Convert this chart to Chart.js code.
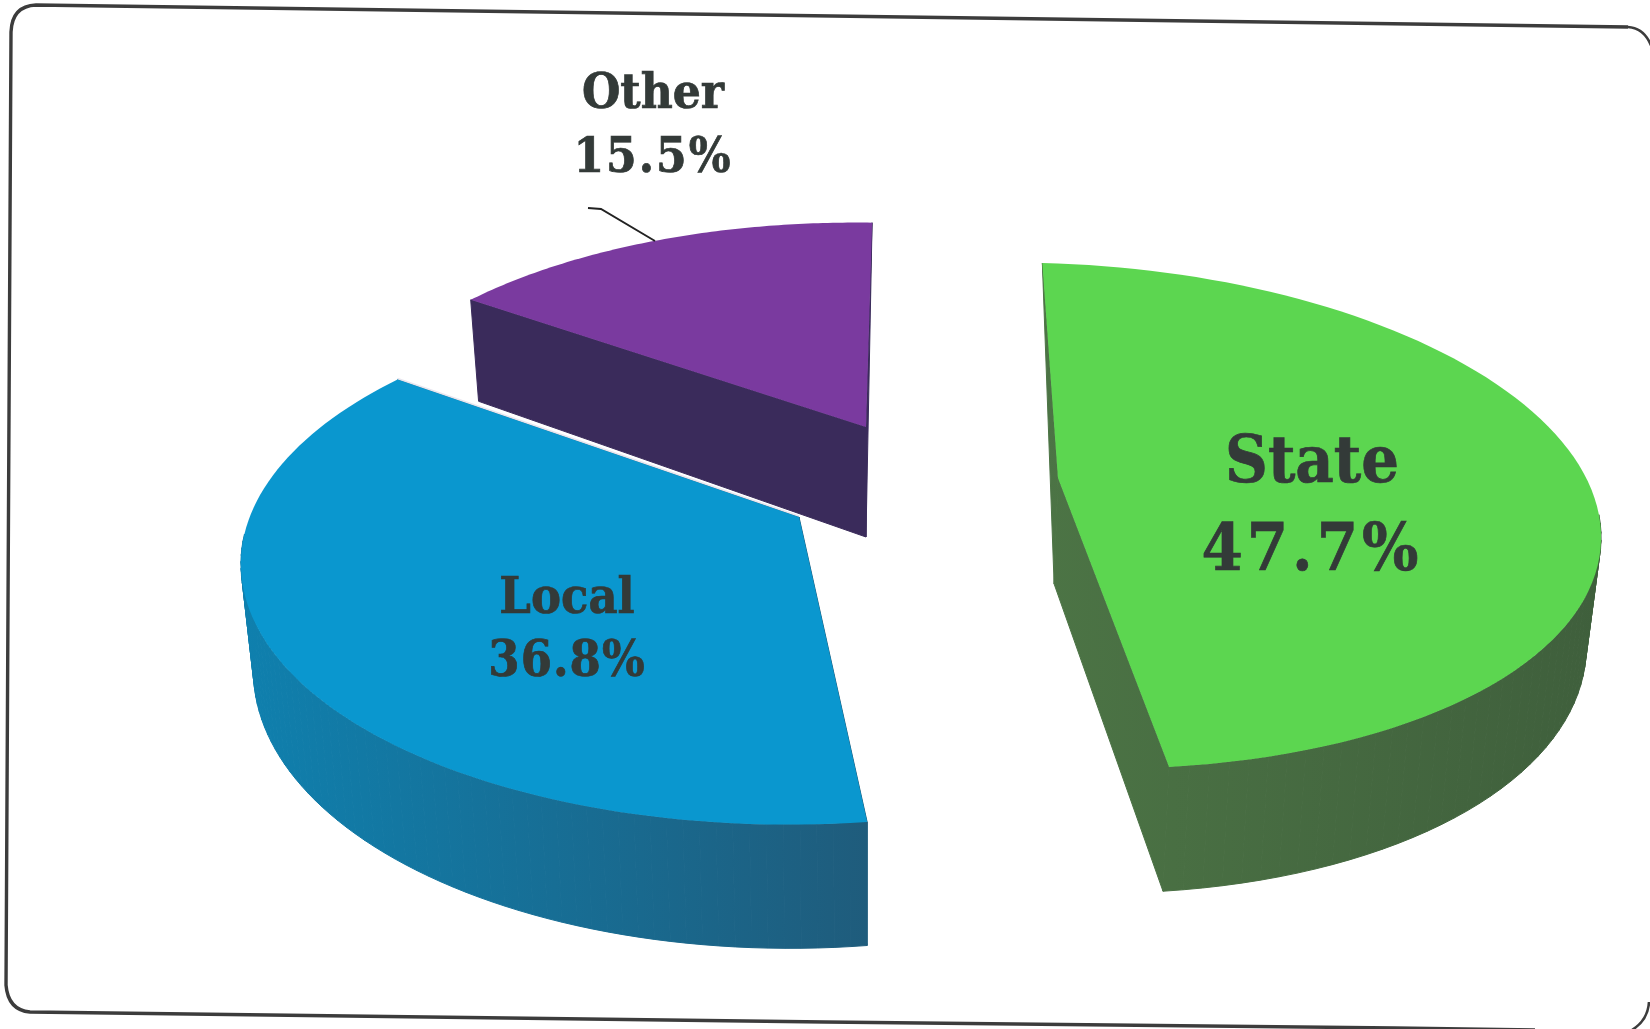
<!DOCTYPE html>
<html>
<head>
<meta charset="utf-8">
<title>Share of funding</title>
<script src="https://cdn.jsdelivr.net/npm/chart.js@4"></script>
<style>
  html, body { margin: 0; padding: 0; background: #fff; }
  canvas { display: block; }
</style>
</head>
<body>
<canvas id="pie" width="1650" height="1029"></canvas>
<script>
const categories = ["State", "Local", "Other"];
const shares = [47.7, 36.8, 15.5];
const topColors = ["#5cd650", "#0a97cf", "#7a3a9f"];
const wallColors = [["#4c7445", "#3f5f3c"], ["#0f80ae", "#1f5c7c"], ["#3a2b5b", "#3a2b5b"]];

// how each exploded slice sits on the page (3d look, chart.js has no 3d pie)
const apexX = [1058, 799, 866];
const apexY = [478, 517, 427];
const radX = [534, 546, 523];
const radY = [247, 256, 235];
const skewX = [18, -22, -7];
const skewY = [13, 8, 7];
const tilt = [-0.149, -0.1675, -0.15];
const thick = [106, 103, 110];
const vanishX = 865;

// label text goes line by line: name, then share
const labelX = [1312, 567, 653];
const labelY = [[482, 570], [613, 676], [108, 172]];
const labelSize = [66, 50, 49];
const shareSpacing = ["4px", "1px", "2px"];
const labelColor = "#333a38";

function project(i, angle, down) {
  const u = Math.cos(angle), v = Math.sin(angle);
  const w = 1 + tilt[i] * v;
  const x = apexX[i] + (radX[i] * u + skewX[i] * v) / w;
  const y = apexY[i] + (radY[i] * v + skewY[i] * u) / w;
  if (!down) return [x, y];
  return [vanishX + (x - vanishX) * 0.98, y + thick[i] / w];
}

function apexPoint(i, down) {
  if (!down) return [apexX[i], apexY[i]];
  return [vanishX + (apexX[i] - vanishX) * 0.98, apexY[i] + thick[i]];
}

function fillPoly(ctx, pts, color) {
  ctx.beginPath();
  pts.forEach((p, n) => n ? ctx.lineTo(p[0], p[1]) : ctx.moveTo(p[0], p[1]));
  ctx.closePath();
  ctx.fillStyle = color;
  ctx.strokeStyle = color;
  ctx.lineWidth = 1;
  ctx.fill();
  ctx.stroke();
}

function cutWall(ctx, i, angle, shade) {
  const a0 = apexPoint(i, false), a1 = apexPoint(i, true);
  const r = project(i, angle, false);
  // a cut pointing straight away from us only shows as a thin sliver
  if (Math.sin(angle) < -0.9) fillPoly(ctx, [a0, r, a1], shade);
  else fillPoly(ctx, [a0, r, project(i, angle, true), a1], shade);
}

function drawSlice(ctx, i, arc) {
  const steps = 90;
  const rim = [], low = [], angles = [];
  for (let s = 0; s <= steps; s++) {
    const a = arc.startAngle + (arc.endAngle - arc.startAngle) * s / steps;
    angles.push(a);
    rim.push(project(i, a, false));
    low.push(project(i, a, true));
  }
  const xs = rim.map(p => p[0]);
  const shade = ctx.createLinearGradient(Math.min(...xs), 0, Math.max(...xs), 0);
  shade.addColorStop(0, wallColors[i][0]);
  shade.addColorStop(1, wallColors[i][1]);

  // the two cut walls first, then the outer wall, then the top face
  cutWall(ctx, i, arc.startAngle, shade);
  cutWall(ctx, i, arc.endAngle, shade);
  for (let s = 0; s < steps; s++) {
    if (Math.sin(angles[s]) < 0.1 && Math.sin(angles[s + 1]) < 0.1) continue; // back side, hidden
    fillPoly(ctx, [rim[s], rim[s + 1], low[s + 1], low[s]], shade);
  }
  const a0 = apexPoint(i, false);
  ctx.beginPath();
  ctx.moveTo(a0[0], a0[1]);
  rim.forEach(p => ctx.lineTo(p[0], p[1]));
  ctx.closePath();
  ctx.fillStyle = arc.options.backgroundColor;
  ctx.fill();
}

const pie3d = {
  id: "pie3d",
  beforeDatasetsDraw(chart) {
    const ctx = chart.ctx;
    const arcs = chart.getDatasetMeta(0).data;
    ctx.save();
    drawFrame(ctx);
    for (let i = arcs.length - 1; i >= 0; i--) {
      drawSlice(ctx, i, arcs[i]);
      if (i === 1) {
        // thin light gap under the purple slice
        const a = apexPoint(1, false), b = project(1, arcs[1].endAngle, false);
        ctx.beginPath();
        ctx.moveTo(a[0], a[1] - 1);
        ctx.lineTo(b[0], b[1] - 1);
        ctx.strokeStyle = "#e8e6ef";
        ctx.lineWidth = 1.5;
        ctx.stroke();
      }
    }
    drawLeader(ctx);
    drawLabels(ctx);
    ctx.restore();
    return false;
  }
};

function drawFrame(ctx) {
  ctx.strokeStyle = "#3c3c3c";
  ctx.lineWidth = 3.4;
  ctx.beginPath();
  ctx.moveTo(1628, 27);
  ctx.lineTo(36, 5);
  ctx.quadraticCurveTo(12, 6, 11, 32);
  ctx.lineTo(6, 985);
  ctx.quadraticCurveTo(8, 1010, 30, 1012);
  ctx.lineTo(825, 1022);
  ctx.lineTo(1395, 1028);
  ctx.lineTo(1535, 1030);
  ctx.stroke();

  ctx.lineWidth = 2.6;
  ctx.beginPath();
  ctx.moveTo(1628, 27);
  ctx.quadraticCurveTo(1645, 28, 1652, 48);
  ctx.moveTo(1649, 1002);
  ctx.quadraticCurveTo(1648, 1020, 1632, 1030);
  ctx.stroke();
}

function drawLeader(ctx) {
  ctx.beginPath();
  ctx.moveTo(588, 208);
  ctx.lineTo(601, 209);
  ctx.lineTo(655, 241);
  ctx.strokeStyle = "#222";
  ctx.lineWidth = 2;
  ctx.stroke();
}

function drawLabels(ctx) {
  ctx.textAlign = "center";
  ctx.textBaseline = "alphabetic";
  ctx.fillStyle = labelColor;
  ctx.strokeStyle = labelColor;
  ctx.lineWidth = 0.7;
  categories.forEach((name, i) => {
    ctx.font = 'bold ' + labelSize[i] + 'px "DejaVu Serif Condensed", "DejaVu Serif", serif';
    ctx.letterSpacing = "0px";
    ctx.fillText(name, labelX[i], labelY[i][0]);
    ctx.strokeText(name, labelX[i], labelY[i][0]);
    const share = shares[i].toFixed(1) + "%";
    ctx.letterSpacing = shareSpacing[i];
    ctx.fillText(share, labelX[i], labelY[i][1]);
    ctx.strokeText(share, labelX[i], labelY[i][1]);
  });
}

new Chart(document.getElementById("pie"), {
  type: "pie",
  data: {
    labels: categories,
    datasets: [{ data: shares, backgroundColor: topColors, borderWidth: 0 }]
  },
  options: {
    responsive: false,
    animation: false,
    plugins: { legend: { display: false }, tooltip: { enabled: false } }
  },
  plugins: [pie3d]
});
</script>
</body>
</html>
